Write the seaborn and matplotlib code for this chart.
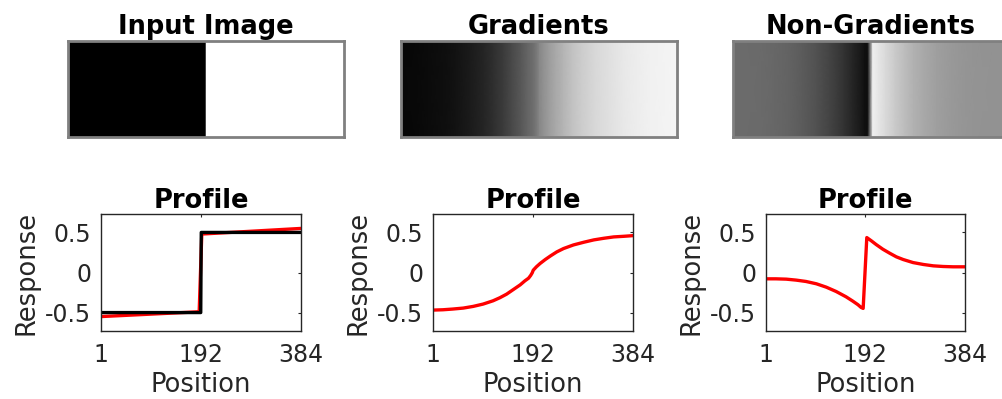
import numpy as np
import matplotlib
matplotlib.use("Agg")
import matplotlib.pyplot as plt
import seaborn as sns

# ---- data -------------------------------------------------------------
# ideal step edge (input image profile)
step_pos = [1, 192, 193, 384]
step_val = [-0.5, -0.5, 0.5, 0.5]

# model response to the input
input_pos = [1, 189, 194, 384]
input_val = [-0.55, -0.49, 0.48, 0.55]

# gradient component
grad_pos = [1, 20, 39, 59, 78, 97, 116, 129, 142, 155, 168, 177, 184, 188, 191, 193,
            199, 206, 216, 226, 238, 251, 270, 290, 309, 328, 347, 367, 384]
grad_val = [-0.469, -0.465, -0.456, -0.444, -0.423, -0.394, -0.353, -0.315, -0.27,
            -0.212, -0.154, -0.104, -0.071, -0.037, -0.004, 0.029, 0.071, 0.112,
            0.162, 0.207, 0.257, 0.299, 0.344, 0.378, 0.407, 0.427, 0.444, 0.452, 0.46]

# non-gradient component
nongrad_pos = [1, 20, 40, 59, 78, 98, 117, 136, 155, 168, 178, 184, 188,
               195, 204, 213, 226, 239, 252, 265, 284, 304, 323, 342, 361, 384]
nongrad_val = [-0.079, -0.079, -0.083, -0.095, -0.112, -0.141, -0.183, -0.237,
               -0.303, -0.357, -0.402, -0.436, -0.448,
               0.436, 0.394, 0.349, 0.29, 0.241, 0.195, 0.162, 0.124, 0.1,
               0.083, 0.075, 0.071, 0.071]

image_titles = ["Input Image", "Gradients", "Non-Gradients"]
profile_title = "Profile"
x_ticks = [1, 192, 384]
x_tick_labels = ["1", "192", "384"]
y_ticks = [-0.5, 0, 0.5]
y_tick_labels = ["-0.5", "0", "0.5"]

# ---- style ------------------------------------------------------------
sns.set_theme(style="white")
plt.rcParams["font.family"] = ["DejaVu Sans"]
plt.rcParams["axes.unicode_minus"] = False

W, H = 1003, 399
fig = plt.figure(figsize=(W / 100, H / 100), dpi=100)

def box(x0, y0, x1, y1):
    return [x0 / W, 1 - y1 / H, (x1 - x0) / W, (y1 - y0) / H]

frame_color = "#262626"

# ---- top row: profiles rendered as grayscale strips --------------------
img_boxes = [box(68, 41, 344, 137), box(401, 41, 677, 137), box(733, 41, 1009, 137)]
img_series = [(step_pos, step_val), (grad_pos, grad_val), (nongrad_pos, nongrad_val)]
for rect, (px, pv), title in zip(img_boxes, img_series, image_titles):
    ax = fig.add_axes(rect)
    px = np.asarray(px, dtype=float)
    pv = np.asarray(pv, dtype=float)
    ax.pcolormesh(px, [0, 1], np.vstack([pv, pv]), shading="gouraud",
                  cmap="gray", vmin=-0.5, vmax=0.5)
    ax.set_xlim(1, 384)
    ax.set_ylim(0, 1)
    ax.set_xticks([])
    ax.set_yticks([])
    for sp in ax.spines.values():
        sp.set_visible(True)
        sp.set_color("#808080")
        sp.set_linewidth(2.0)
    ax.set_title(title, fontsize=18.5, fontweight="bold", color="black", pad=5)

# ---- bottom row: response profiles ------------------------------------
prof_boxes = [box(101, 214, 301, 331), box(433, 214, 633, 331), box(766, 214, 965, 331)]
axes = [fig.add_axes(r) for r in prof_boxes]

line_kw = dict(lw=2.4, estimator=None)
sns.lineplot(x=input_pos, y=input_val, ax=axes[0], color="red", **line_kw)
sns.lineplot(x=step_pos, y=step_val, ax=axes[0], color="black", **line_kw)
sns.lineplot(x=grad_pos, y=grad_val, ax=axes[1], color="red", **line_kw)
sns.lineplot(x=nongrad_pos, y=nongrad_val, ax=axes[2], color="red", **line_kw)

for ax in axes:
    ax.set_xlim(1, 384)
    ax.set_ylim(-0.73, 0.73)
    ax.set_xticks(x_ticks)
    ax.set_xticklabels(x_tick_labels)
    ax.set_yticks(y_ticks)
    ax.set_yticklabels(y_tick_labels)
    ax.tick_params(axis="both", direction="in", length=2.5, width=0.8,
                   color=frame_color, labelcolor=frame_color, labelsize=17,
                   top=True, right=True)
    ax.tick_params(axis="x", pad=9)
    ax.tick_params(axis="y", pad=7)
    for sp in ax.spines.values():
        sp.set_visible(True)
        sp.set_color(frame_color)
        sp.set_linewidth(1.0)
    ax.set_xlabel("Position", fontsize=18.5, color=frame_color, labelpad=3)
    ax.set_ylabel("Response", fontsize=18.5, color=frame_color, labelpad=4)
    ax.set_title(profile_title, fontsize=18.5, fontweight="bold", color="black", pad=4.5)

fig.savefig("out.png", dpi=100)
